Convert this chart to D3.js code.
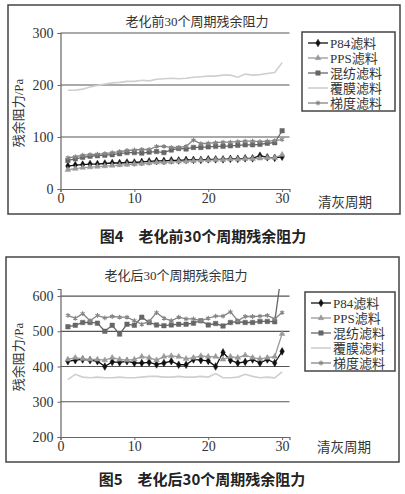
<!DOCTYPE html>
<html>
<head>
<meta charset="utf-8">
<script src="https://cdn.jsdelivr.net/npm/d3@7"></script>
<style>
  body { margin: 0; background: #fff; }
  svg { display: block; }
  .serif { font-family: "Liberation Serif", "DejaVu Serif", "Noto Sans CJK SC", serif; fill: #333; }
  .caption { font-family: "Noto Sans CJK SC", sans-serif; font-weight: bold; font-size: 15px; fill: #222; }
</style>
</head>
<body>
<div id="chart"></div>
<script>
// x categories and ticks
const cycles = [1,2,3,4,5,6,7,8,9,10,11,12,13,14,15,16,17,18,19,20,21,22,23,24,25,26,27,28,29,30];
const xTicks = [0, 10, 20, 30];
const seriesNames = ["P84滤料", "PPS滤料", "混纺滤料", "覆膜滤料", "梯度滤料"];

// before ageing (Fig 4)
const yTicksBefore = [0, 100, 200, 300];
const p84Before = [44,46,47,48,48,49,50,50,51,51,52,53,54,54,55,55,56,56,56,57,57,57,58,58,59,59,64,61,60,62];
const ppsBefore = [37,39,41,42,43,44,45,46,47,48,49,50,51,51,52,53,53,54,55,55,56,56,57,57,58,58,59,60,60,66];
const blendBefore = [55,58,61,63,64,65,66,68,70,70,69,71,72,70,75,78,77,80,80,81,82,82,83,84,85,85,86,88,89,112];
const coatedBefore = [190,190,192,196,199,202,204,205,207,207,209,208,211,212,213,212,213,215,216,217,217,219,219,215,221,219,220,222,224,243];
const gradientBefore = [60,62,65,66,67,68,70,72,74,75,76,76,82,82,80,80,82,94,87,88,89,90,90,91,92,92,91,92,93,95];

// after ageing (Fig 5)
const yTicksAfter = [200, 300, 400, 500, 600];
const p84After = [415,418,420,418,415,400,413,412,415,410,410,412,406,410,415,405,405,420,418,416,400,440,418,410,413,420,410,420,410,443];
const ppsAfter = [420,425,422,420,420,418,425,420,418,420,428,425,418,428,430,428,422,425,430,428,428,420,428,425,432,425,422,425,428,493];
const blendAfter = [513,517,525,525,523,500,517,492,520,517,540,525,518,516,518,520,520,523,530,518,522,515,525,527,525,525,528,528,527,680];
const coatedAfter = [363,378,370,368,370,368,368,370,368,368,370,372,372,370,370,372,370,370,372,370,380,368,368,370,378,372,368,370,368,385];
const gradientAfter = [545,537,550,530,545,538,542,540,540,530,520,528,553,537,530,540,535,535,530,537,543,543,555,530,542,542,543,545,535,553];

const styles = [
    {color: "#111", symbol: d3.symbolDiamond, size: 17, fill: true},
    {color: "#9a9a9a", symbol: d3.symbolTriangle, size: 14, fill: true},
    {color: "#666", symbol: d3.symbolSquare, size: 20, fill: true},
    {color: "#cfcfcf", symbol: null},
    {color: "#858585", symbol: d3.symbolAsterisk, size: 16, fill: false}
];

const serifFont = '"Liberation Serif", "DejaVu Serif", "Noto Sans CJK SC", serif';

const svg = d3.select("#chart").append("svg")
    .attr("width", 405)
    .attr("height", 494);

function drawChart(cfg) {
    const g = svg.append("g");

    // outer frame
    g.append("rect")
        .attr("x", cfg.frame[0]).attr("y", cfg.frame[1])
        .attr("width", cfg.frame[2]).attr("height", cfg.frame[3])
        .attr("fill", "#fff").attr("stroke", "#444").attr("stroke-width", 1.5);

    const x = d3.scaleLinear().domain([0, 31]).range([60.5, 289.5]);
    const y = d3.scaleLinear().domain(cfg.yDomain).range(cfg.yRange);

    // grid lines
    g.append("g").selectAll("line")
        .data(cfg.yTicks.filter(d => d !== cfg.yDomain[0]))
        .join("line")
        .attr("x1", x(0)).attr("x2", x(31))
        .attr("y1", d => y(d)).attr("y2", d => y(d))
        .attr("stroke", "#555").attr("stroke-width", 1.2);

    // axes
    const xAxis = g.append("g")
        .attr("transform", "translate(0," + y(cfg.yDomain[0]) + ")")
        .call(d3.axisBottom(x).tickValues(xTicks).tickSize(3).tickPadding(1));
    const yAxis = g.append("g")
        .attr("transform", "translate(" + x(0) + ",0)")
        .call(d3.axisLeft(y).tickValues(cfg.yTicks).tickSize(3).tickPadding(4));
    [xAxis, yAxis].forEach(a => {
        a.attr("font-family", serifFont).attr("font-size", 14);
        a.select(".domain").attr("stroke", "#666").attr("stroke-width", 1.2);
        a.selectAll(".tick line").attr("stroke", "#666");
        a.selectAll(".tick text").attr("fill", "#333");
    });

    // series
    const clipId = "clip" + cfg.id;
    g.append("clipPath").attr("id", clipId)
        .append("rect")
        .attr("x", x(0)).attr("y", cfg.yRange[1])
        .attr("width", x(31) - x(0)).attr("height", cfg.yRange[0] - cfg.yRange[1]);

    const plot = g.append("g").attr("clip-path", "url(#" + clipId + ")");
    const line = d3.line().x((d, i) => x(cycles[i])).y(d => y(d));

    cfg.series.forEach((values, k) => {
        const st = styles[k];
        plot.append("path")
            .attr("d", line(values))
            .attr("fill", "none")
            .attr("stroke", st.color)
            .attr("stroke-width", k === 3 ? 1.6 : 1.3);
        if (st.symbol) {
            plot.append("g").selectAll("path")
                .data(values)
                .join("path")
                .attr("transform", (d, i) => "translate(" + x(cycles[i]) + "," + y(d) + ")")
                .attr("d", d3.symbol(st.symbol, st.size))
                .attr("fill", st.fill ? st.color : "none")
                .attr("stroke", st.color)
                .attr("stroke-width", st.fill ? 0.5 : 1.1);
        }
    });

    // titles
    g.append("text").attr("class", "serif")
        .attr("x", cfg.title[0]).attr("y", cfg.title[1])
        .attr("text-anchor", "middle").attr("font-size", 13)
        .text(cfg.titleText);
    g.append("text").attr("class", "serif")
        .attr("transform", "translate(" + cfg.yLabel[0] + "," + cfg.yLabel[1] + ") rotate(-90)")
        .attr("text-anchor", "middle").attr("font-size", 13)
        .text("残余阻力/Pa");
    g.append("text").attr("class", "serif")
        .attr("x", cfg.xLabel[0]).attr("y", cfg.xLabel[1])
        .attr("font-size", 13.5)
        .text("清灰周期");

    // legend
    const lg = g.append("g").attr("transform", "translate(" + cfg.legend[0] + "," + cfg.legend[1] + ")");
    lg.append("rect")
        .attr("width", cfg.legend[2]).attr("height", cfg.legend[3])
        .attr("fill", "#fff").attr("stroke", "#444").attr("stroke-width", 1.5);
    seriesNames.forEach((name, k) => {
        const st = styles[k];
        const row = lg.append("g").attr("transform", "translate(0," + (11 + k * 15) + ")");
        row.append("line")
            .attr("x1", 6).attr("x2", 26)
            .attr("stroke", st.color).attr("stroke-width", k === 3 ? 1.6 : 1.3);
        if (st.symbol) {
            row.append("path")
                .attr("transform", "translate(16,0)")
                .attr("d", d3.symbol(st.symbol, st.size))
                .attr("fill", st.fill ? st.color : "none")
                .attr("stroke", st.color)
                .attr("stroke-width", st.fill ? 0.5 : 1.1);
        }
        row.append("text").attr("class", "serif")
            .attr("x", 28).attr("y", 5)
            .attr("font-size", 13)
            .text(name);
    });

    // caption below the frame
    svg.append("text").attr("class", "caption")
        .attr("x", cfg.caption[0]).attr("y", cfg.caption[1])
        .attr("text-anchor", "middle")
        .text(cfg.captionText);
}

drawChart({
    id: 4,
    frame: [8, 5, 392, 209],
    yDomain: [0, 300], yRange: [189, 33],
    yTicks: yTicksBefore,
    series: [p84Before, ppsBefore, blendBefore, coatedBefore, gradientBefore],
    title: [197, 26], titleText: "老化前30个周期残余阻力",
    yLabel: [23, 113], xLabel: [318, 207],
    legend: [302, 32, 93, 79],
    caption: [203, 242], captionText: "图4　老化前30个周期残余阻力"
});

drawChart({
    id: 5,
    frame: [6, 257, 393, 205],
    yDomain: [200, 620], yRange: [437, 289],
    yTicks: yTicksAfter,
    series: [p84After, ppsAfter, blendAfter, coatedAfter, gradientAfter],
    title: [176, 280], titleText: "老化后30个周期残余阻力",
    yLabel: [23, 357], xLabel: [317, 452],
    legend: [305, 292, 90, 79],
    caption: [202, 485], captionText: "图5　老化后30个周期残余阻力"
});
</script>
</body>
</html>
